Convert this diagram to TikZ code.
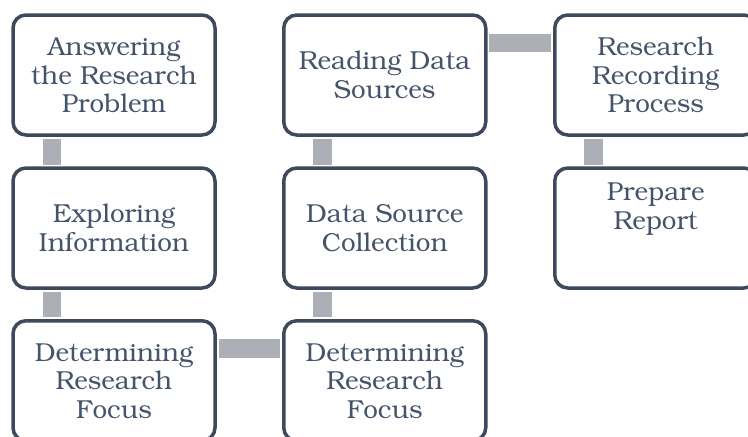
\documentclass[tikz,border=0pt]{standalone}
\usepackage[T1]{fontenc}
\usepackage{bookman}
\usetikzlibrary{calc}
\definecolor{boxline}{HTML}{3E4A5B}
\definecolor{txt}{HTML}{44546A}
\definecolor{linkc}{HTML}{ADAFB6}
\begin{document}
\begin{tikzpicture}[x=1pt,y=-1pt,
  stepbox/.style={draw=boxline, line width=3.5pt, rounded corners=13pt, fill=white,
    minimum width=202pt, minimum height=120pt, inner sep=0pt, align=center,
    text=txt, font=\fontsize{26}{28.5}\selectfont},
  plaintext/.style={inner sep=0pt, align=center, text=txt, font=\fontsize{26}{28.5}\selectfont},
  linkline/.style={draw=linkc, line width=18.5pt, shorten >=1.75pt, shorten <=1.75pt}]
\clip (0,0) rectangle (748,437);
\fill[white] (0,0) rectangle (748,437);
% boxes
\node[stepbox] (b1) at (114,75) {Answering\\the Research\\Problem};
\node[stepbox] (b2) at (384.75,75) {Reading Data\\Sources};
\node[stepbox] (b3) at (655.75,75) {Research\\Recording\\Process};
\node[stepbox] (b4) at (114,228) {Exploring\\Information};
\node[stepbox] (b5) at (384.75,228) {Data Source\\Collection};
\node[stepbox] (b6) at (655.75,228) {};
\node[plaintext] (t6) at (655.75,209) {Prepare\\Report};
\node[stepbox] (b7) at (114,380.75) {Determining\\Research\\Focus};
\node[stepbox] (b8) at (384.75,380.75) {Determining\\Research\\Focus};
% connectors
\draw[linkline] ($(b1.south west)+(40.5,0)$) -- ($(b4.north west)+(40.5,0)$);
\draw[linkline] ($(b4.south west)+(40.5,0)$) -- ($(b7.north west)+(40.5,0)$);
\draw[linkline] ($(b7.north east)+(0,29.5)$) -- ($(b8.north west)+(0,29.5)$);
\draw[linkline] ($(b8.north west)+(40.5,0)$) -- ($(b5.south west)+(40.5,0)$);
\draw[linkline] ($(b5.north west)+(40.5,0)$) -- ($(b2.south west)+(40.5,0)$);
\draw[linkline] ($(b2.north east)+(0,29.5)$) -- ($(b3.north west)+(0,29.5)$);
\draw[linkline] ($(b3.south west)+(40.5,0)$) -- ($(b6.north west)+(40.5,0)$);
\end{tikzpicture}
\end{document}
